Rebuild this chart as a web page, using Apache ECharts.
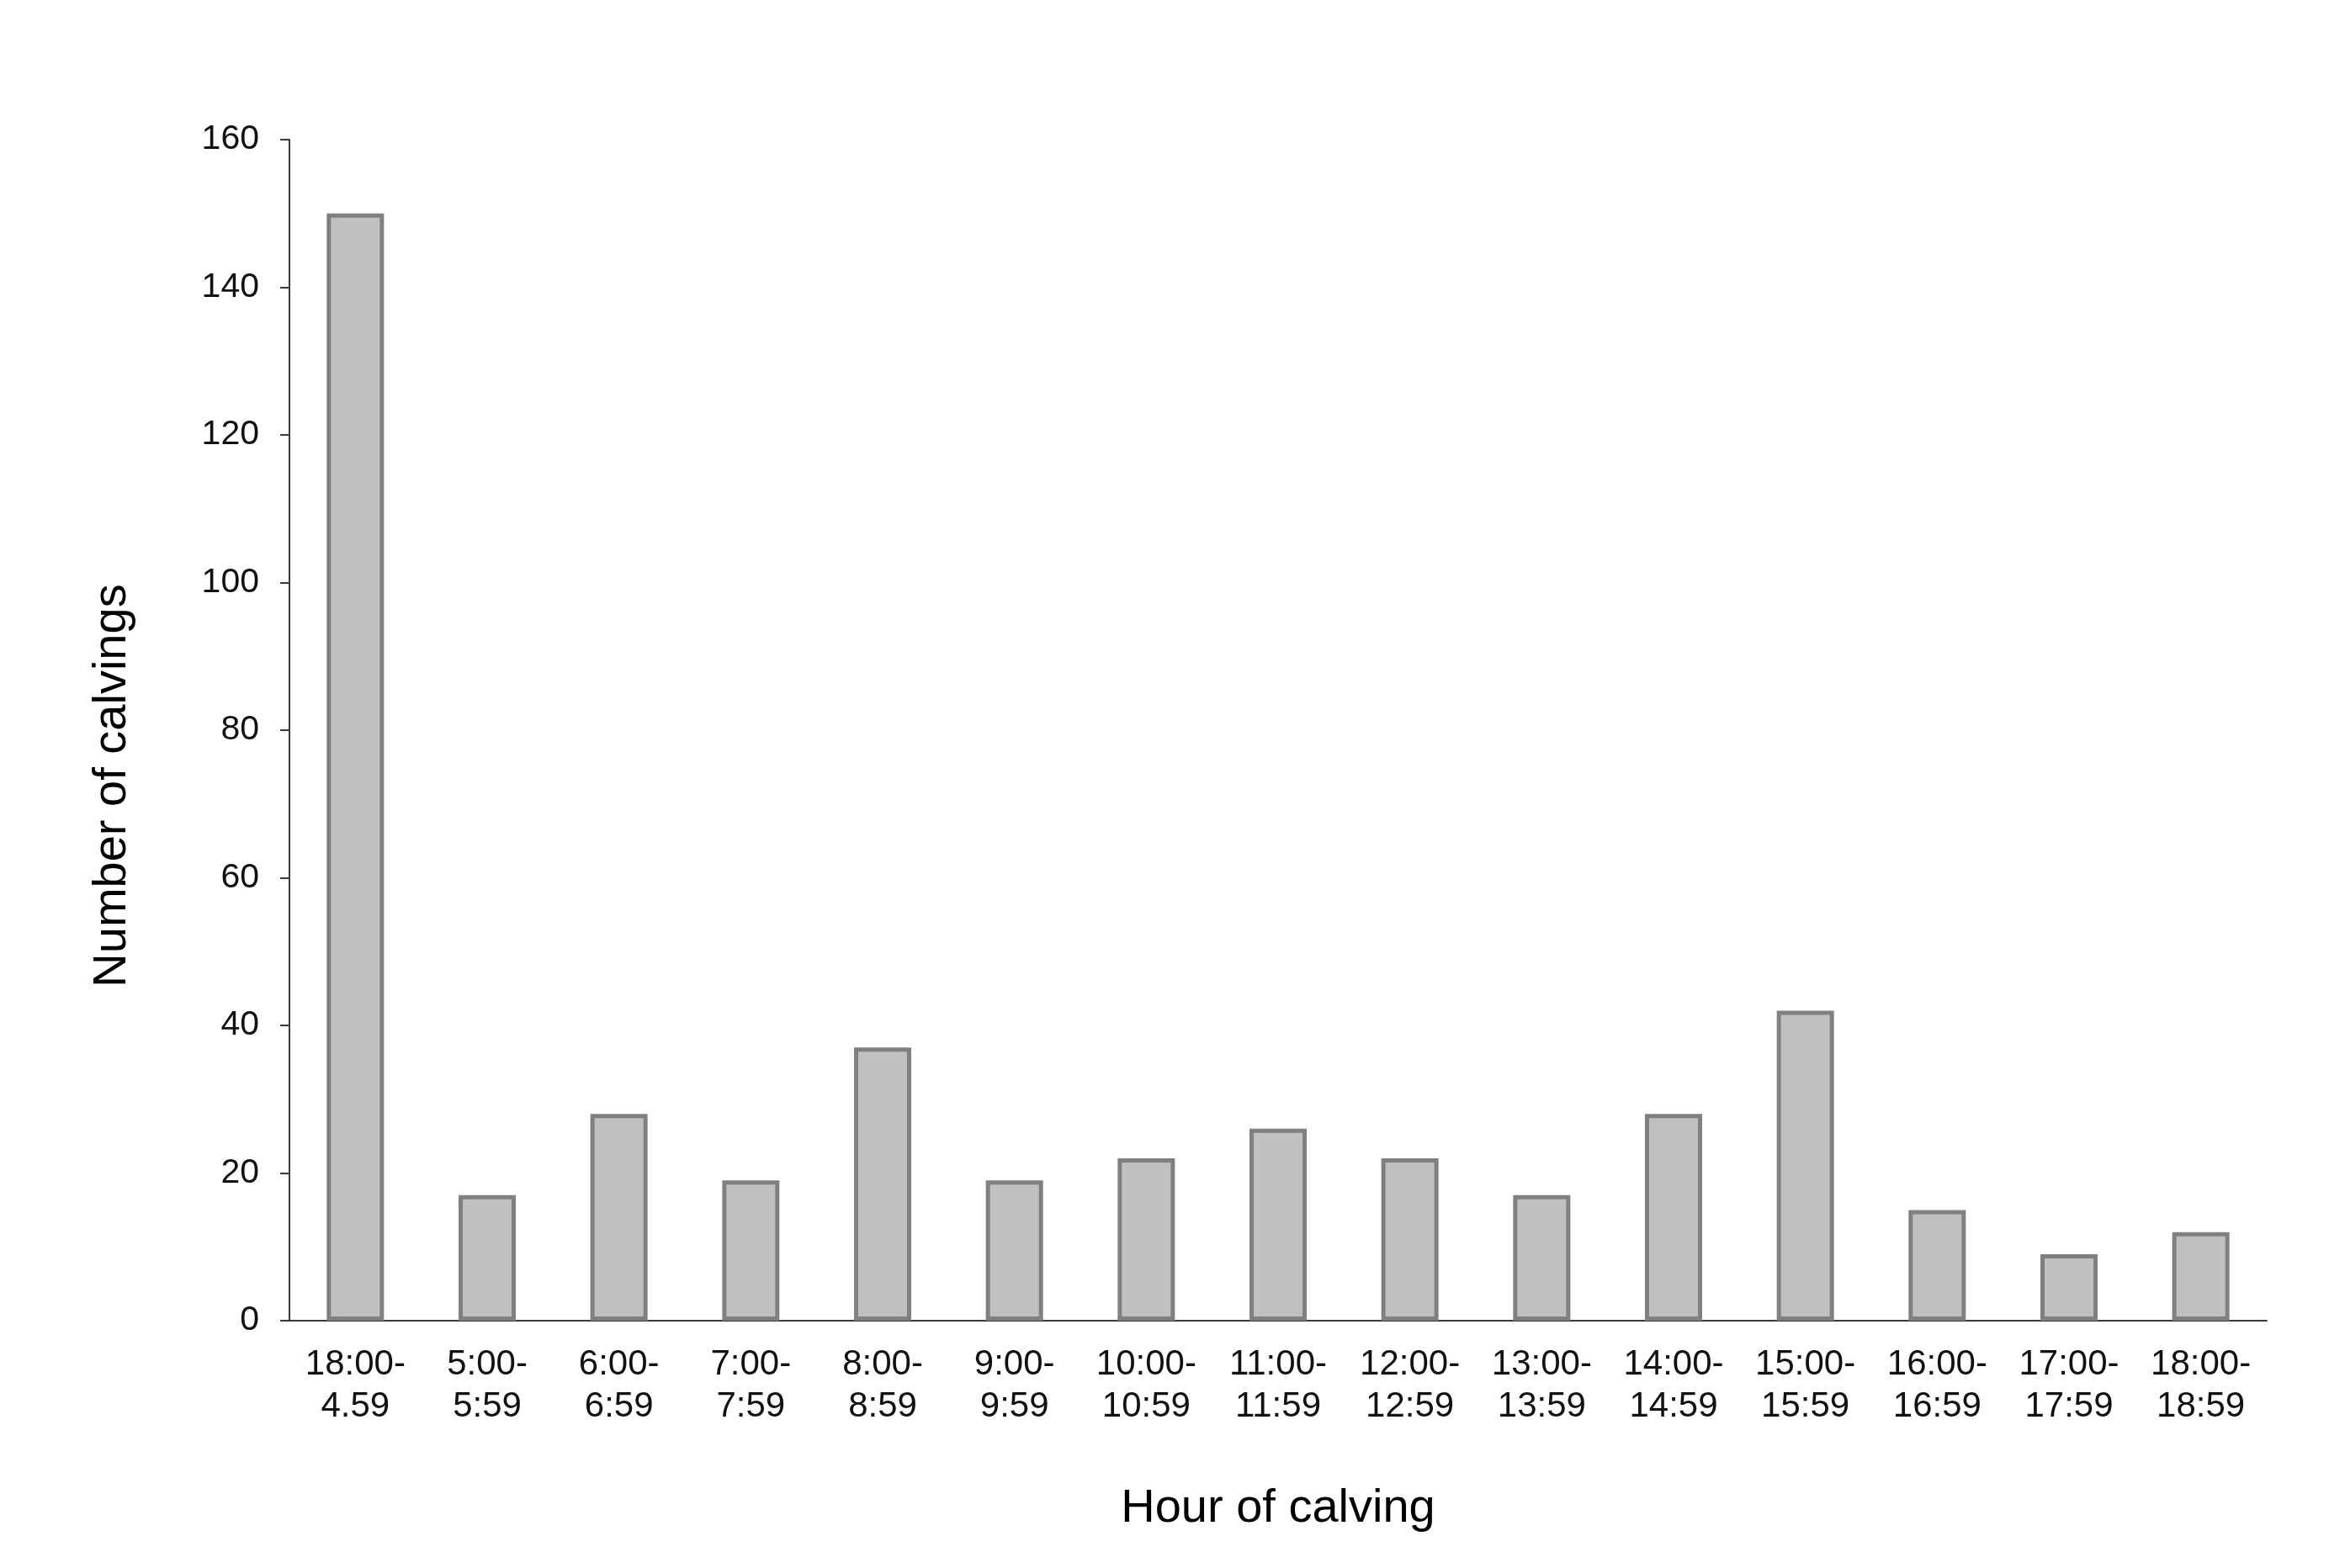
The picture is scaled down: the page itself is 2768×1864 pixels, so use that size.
<!DOCTYPE html>
<html>
<head>
<meta charset="utf-8">
<title>Hour of calving</title>
<script src="https://cdn.jsdelivr.net/npm/echarts@6/dist/echarts.min.js"></script>
<style>
  html, body { margin: 0; padding: 0; background: #fff; }
  #chart { width: 2768px; height: 1864px; }
</style>
</head>
<body>
<div id="chart"></div>
<script>
// hour bins (x axis)
const hours = [
  '18:00-\n4.59', '5:00-\n5:59', '6:00-\n6:59', '7:00-\n7:59', '8:00-\n8:59',
  '9:00-\n9:59', '10:00-\n10:59', '11:00-\n11:59', '12:00-\n12:59', '13:00-\n13:59',
  '14:00-\n14:59', '15:00-\n15:59', '16:00-\n16:59', '17:00-\n17:59', '18:00-\n18:59'
]
// number of calvings per bin
const calvings = [150, 17, 28, 19, 37, 19, 22, 26, 22, 17, 28, 42, 15, 9, 12]
// y axis range
const yMin = 0
const yMax = 160
const yStep = 20

const font = 'Liberation Sans, Arial, sans-serif'
const axisColor = '#3a3a3a'

const chart = echarts.init(document.getElementById('chart'))
chart.setOption({
  animation: false,
  backgroundColor: '#fff',
  grid: {
    left: 344,
    right: 74,
    top: 166,
    bottom: 294
  },
  xAxis: {
    type: 'category',
    data: hours,
    name: 'Hour of calving',
    nameLocation: 'middle',
    nameGap: 196,
    nameTextStyle: {
      fontFamily: font,
      fontSize: 56,
      color: '#000'
    },
    axisLine: {
      lineStyle: { color: axisColor, width: 2 }
    },
    axisTick: {
      length: 11,
      lineStyle: { color: axisColor, width: 2 }
    },
    axisLabel: {
      interval: 0,
      margin: 27,
      fontFamily: font,
      fontSize: 42,
      lineHeight: 50,
      color: '#111'
    },
    splitLine: { show: false }
  },
  yAxis: {
    type: 'value',
    min: yMin,
    max: yMax,
    interval: yStep,
    name: 'Number of calvings',
    nameLocation: 'middle',
    nameGap: 182,
    nameTextStyle: {
      fontFamily: font,
      fontSize: 56,
      color: '#000',
      // push the title a bit below the middle, as in the original
      padding: [0, 132, 0, 0]
    },
    axisLine: {
      show: true,
      lineStyle: { color: axisColor, width: 2 }
    },
    axisTick: {
      show: true,
      length: 11,
      lineStyle: { color: axisColor, width: 2 }
    },
    axisLabel: {
      margin: 36,
      fontFamily: font,
      fontSize: 41,
      color: '#111'
    },
    splitLine: { show: false }
  },
  series: [
    {
      type: 'bar',
      data: calvings,
      barWidth: 68,
      itemStyle: {
        color: '#c0c0c0',
        borderColor: '#808080',
        borderWidth: 5
      }
    }
  ]
})
</script>
</body>
</html>
